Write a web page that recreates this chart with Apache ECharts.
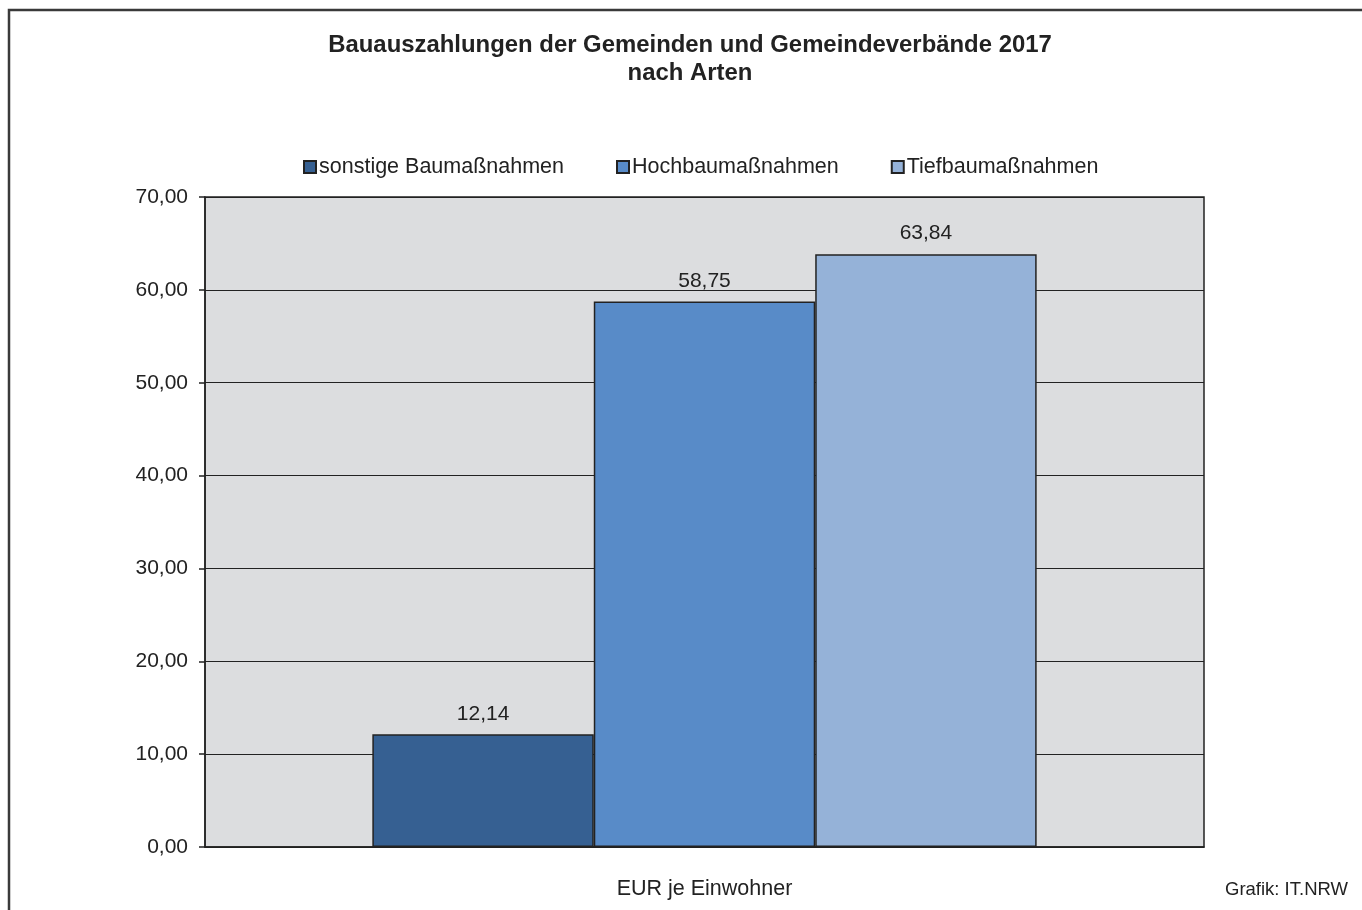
<!DOCTYPE html>
<html>
<head>
<meta charset="utf-8">
<script src="https://cdn.jsdelivr.net/npm/echarts@6/dist/echarts.min.js"></script>
<style>html,body{margin:0;padding:0;background:#fff}#c{width:1362px;height:910px}</style>
</head>
<body>
<div id="c"></div>
<script>
const titleLines = ['Bauauszahlungen der Gemeinden und Gemeindeverbände 2017', 'nach Arten'];
const categories = ['EUR je Einwohner'];
const seriesNames = ['sonstige Baumaßnahmen', 'Hochbaumaßnahmen', 'Tiefbaumaßnahmen'];
const sonstige = [12.14];
const hochbau = [58.75];
const tiefbau = [63.84];
const seriesColors = ['#366092', '#588BC8', '#95B2D8'];
const source = 'Grafik: IT.NRW';

const fmt = v => v.toFixed(2).replace('.', ',');
const FONT = '"Liberation Sans", Arial, sans-serif';
const chart = echarts.init(document.getElementById('c'), null, {renderer: 'canvas'});
const data = [sonstige, hochbau, tiefbau];
chart.setOption({
  animation: false,
  backgroundColor: '#fff',
  textStyle: {fontFamily: FONT, color: '#222'},
  title: {
    text: titleLines.join('\n'),
    left: 690, top: 31, textAlign: 'center', padding: 0,
    textStyle: {fontFamily: FONT, fontSize: 23.9, fontWeight: 'bold', color: '#222', lineHeight: 28}
  },
  legend: {
    top: 156, left: 303,
    itemWidth: 12, itemHeight: 12, itemGap: 52,
    icon: 'rect', padding: 0,
    textStyle: {fontFamily: FONT, fontSize: 21.5, color: '#222', padding: [0, 0, 0, -2]},
    data: seriesNames
  },
  grid: {
    left: 205, right: 158, top: 197, bottom: 63,
    show: true, backgroundColor: '#DCDDDF', borderColor: '#222', borderWidth: 1.5
  },
  xAxis: {
    type: 'category', data: categories,
    axisLine: {show: true, lineStyle: {color: '#222', width: 1.5}},
    axisTick: {show: false},
    axisLabel: {fontFamily: FONT, fontSize: 21.5, color: '#222', margin: 31}
  },
  yAxis: {
    type: 'value', min: 0, max: 70, interval: 10,
    axisLine: {show: true, lineStyle: {color: '#222', width: 1.5}},
    axisTick: {show: true, length: 6, lineStyle: {color: '#222', width: 1.5}},
    splitLine: {lineStyle: {color: '#222', width: 1.2}},
    axisLabel: {fontFamily: FONT, fontSize: 21, color: '#222', margin: 17, formatter: fmt}
  },
  series: seriesNames.map((n, i) => ({
    name: n, type: 'bar', data: data[i],
    barGap: '0%', barCategoryGap: '33.5%',
    itemStyle: {color: seriesColors[i], borderColor: '#222', borderWidth: 1.5},
    label: {show: true, position: 'top', distance: 10, fontFamily: FONT, fontSize: 21, color: '#222',
      formatter: p => fmt(p.value)}
  })),
  graphic: [
    {type: 'rect', shape: {x: 9, y: 10, width: 1500, height: 1000},
     style: {fill: 'none', stroke: '#3a3a3a', lineWidth: 2.5}, silent: true},
    {type: 'text', right: 14, top: 880,
     style: {text: source, font: '18.5px ' + FONT, fill: '#222'}}
  ]
});
</script>
</body>
</html>
